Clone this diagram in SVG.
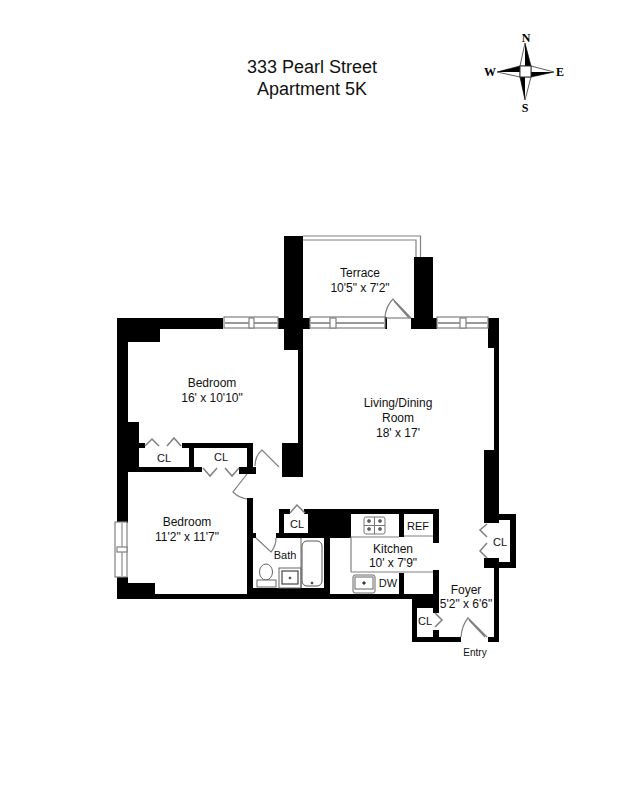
<svg xmlns="http://www.w3.org/2000/svg" width="618" height="800" viewBox="0 0 618 800">
<style>
text{font-family:"Liberation Sans",Arial,sans-serif;fill:#111;text-anchor:middle}
.t{font-size:18px}.r{font-size:12px}.s{font-size:11px}.x{font-size:10px}
.c{font-family:"Liberation Serif","Times New Roman",serif;font-weight:bold;font-size:12px;fill:#000}
.w{fill:#000}
.g{fill:none;stroke:#808080;stroke-width:1.2}
.gw{fill:#fff;stroke:#808080;stroke-width:1.2}
</style>
<rect width="618" height="800" fill="#fff"/>
<g id="title">
<text class="t" x="312" y="73">333 Pearl Street</text>
<text class="t" x="312" y="95">Apartment 5K</text>
</g>
<g id="compass">
<path d="M525 43L520 66H531Z" fill="#fff" stroke="#333" stroke-width=".8"/>
<path d="M525 43L531 66H525Z" fill="#000"/>
<path d="M525 100L520 77H531Z" fill="#fff" stroke="#333" stroke-width=".8"/>
<path d="M525 100L520 77H525Z" fill="#000"/>
<path d="M497 72L520 66V77Z" fill="#fff" stroke="#333" stroke-width=".8"/>
<path d="M497 72L520 66V72Z" fill="#000"/>
<path d="M554 72L531 66V77Z" fill="#fff" stroke="#333" stroke-width=".8"/>
<path d="M554 72L531 77V72Z" fill="#000"/>
<rect x="520" y="66" width="11" height="11" fill="#fff" stroke="#333"/>
<text class="c" x="526" y="42">N</text>
<text class="c" x="490" y="76">W</text>
<text class="c" x="560" y="76">E</text>
<text class="c" x="525" y="112">S</text>
</g>
<g id="terrace-rail">
<path class="g" d="M303 236H420.500V257M303 240H416V257"/>
</g>
<g id="walls">
<rect class="w" x="284" y="236" width="19" height="114"/>
<rect class="w" x="278" y="318" width="32" height="11"/>
<rect class="w" x="298" y="350" width="5" height="100"/>
<rect class="w" x="282" y="443" width="21" height="34"/>
<rect class="w" x="414" y="257" width="19" height="72"/>
<rect class="w" x="411" y="318" width="26" height="11"/>
<rect class="w" x="385" y="317" width="2" height="12"/>
<rect class="w" x="488" y="318" width="11" height="30"/>
<rect class="w" x="494" y="348" width="5" height="102"/>
<rect class="w" x="484" y="450" width="15" height="73"/>
<rect class="w" x="499" y="514" width="17" height="6"/>
<rect class="w" x="510" y="514" width="6" height="54"/>
<rect class="w" x="484" y="558" width="15" height="10"/>
<rect class="w" x="484" y="562" width="32" height="6"/>
<rect class="w" x="494" y="568" width="5" height="74"/>
<rect class="w" x="117" y="318" width="106" height="11"/>
<rect class="w" x="117" y="318" width="43" height="24"/>
<rect class="w" x="117" y="318" width="11" height="205"/>
<rect class="w" x="117" y="422" width="22" height="50"/>
<rect class="w" x="139" y="443" width="6" height="5"/>
<rect class="w" x="182" y="443" width="71" height="5"/>
<rect class="w" x="189" y="443" width="5" height="24"/>
<rect class="w" x="117" y="467" width="85" height="5"/>
<rect class="w" x="247" y="443" width="6" height="31"/>
<rect class="w" x="239" y="467" width="17" height="7"/>
<rect class="w" x="247" y="498" width="6" height="100"/>
<rect class="w" x="117" y="577" width="11" height="20"/>
<rect class="w" x="117" y="583" width="38" height="16"/>
<rect class="w" x="117" y="594" width="295" height="5"/>
<rect class="w" x="253" y="588" width="71" height="8"/>
<rect class="w" x="253" y="533" width="3" height="5"/>
<rect class="w" x="276" y="533" width="75" height="5"/>
<rect class="w" x="279" y="509" width="5" height="26"/>
<rect class="w" x="308" y="509" width="43" height="28"/>
<rect class="w" x="279" y="509" width="11" height="5"/>
<rect class="w" x="304" y="509" width="135" height="5"/>
<rect class="w" x="324" y="533" width="6" height="63"/>
<rect class="w" x="399" y="514" width="5" height="23"/>
<rect class="w" x="433" y="509" width="6" height="34"/>
<rect class="w" x="433" y="570" width="6" height="43"/>
<rect class="w" x="399" y="573" width="5" height="21"/>
<rect class="w" x="412" y="594" width="27" height="14"/>
<rect class="w" x="412" y="594" width="5" height="48"/>
<rect class="w" x="433" y="630" width="6" height="8"/>
<rect class="w" x="412" y="637" width="49" height="5"/>
<rect class="w" x="488" y="637" width="11" height="5"/>
</g>
<g id="windows">
<g id="win-bedroom"><rect class="gw" x="224" y="317" width="54" height="11"/><path d="M225 323H277" stroke="#333"/><rect class="gw" x="249" y="318" width="5" height="10"/></g>
<g id="win-terrace"><rect class="gw" x="310" y="317" width="75" height="11"/><path d="M311 323H384" stroke="#333"/><rect class="gw" x="330" y="318" width="6" height="10"/></g>
<g id="win-living"><rect class="gw" x="437" y="317" width="51" height="11"/><path d="M438 323H487" stroke="#333"/><rect class="gw" x="460" y="318" width="6" height="10"/></g>
<g id="win-bedroom2"><rect class="gw" x="115" y="522" width="12" height="55"/><path d="M122 523V576" stroke="#777"/><rect class="gw" x="117" y="547" width="10" height="5"/></g>
<path class="g" d="M386 318H411"/>
</g>
<g id="doors">
<path class="g" d="M385 317Q386 306 393 299L411 318M394 301L409 318"/>
<path class="g" d="M255 466Q255 456 262 450L279 467"/>
<path class="g" d="M247 474L233 492Q239 498 247 499"/>
<path class="g" d="M256 538L271 552Q276 546 276 538"/>
<path class="g" d="M461 637Q462 625 468 618L487 637M469 620L485 637"/>
<path class="g" d="M145 446L152 439L159 446M167 446L174 438L181 446M203 468L210 476L217 468M225 468L232 476L239 468M290 513L297 505L305 513M487 524L480 530L487 537M487 543L480 551L487 558M435 613L442 620L435 627" style="stroke-width:1.500"/>
</g>
<g id="kitchen-fixtures">
<path class="g" d="M351 537H399M404 536H433M351 537V572M351 572H433"/>
<g id="stove" fill="none" stroke="#777"><rect x="364" y="517" width="21" height="17" rx="2"/><path d="M374.500 517V534M364 525.500H385"/><circle cx="369" cy="521" r="1.500" fill="#555"/><circle cx="380" cy="521" r="1.500" fill="#555"/><circle cx="369" cy="529" r="1.500" fill="#555"/><circle cx="380" cy="529" r="1.500" fill="#555"/></g>
<g id="ksink" fill="none" stroke="#666"><rect x="353" y="575" width="22" height="18" rx="2"/><rect x="355" y="577" width="18" height="12"/><circle cx="364" cy="583" r="1.300" fill="#000"/></g>
</g>
<g id="bath-fixtures">
<path class="g" d="M301 538V588"/>
<g id="tub" fill="none" stroke="#555"><rect x="302" y="541" width="20" height="45" rx="5"/><circle cx="312" cy="583" r="1" fill="#000"/></g>
<g id="bsink" fill="none" stroke="#666"><rect x="279" y="568" width="22" height="20"/><rect x="282" y="571" width="16" height="13" stroke-width="1.200" stroke="#444"/><circle cx="290" cy="578" r="1" fill="#000"/></g>
<g id="toilet" fill="#fff" stroke="#666"><ellipse cx="266" cy="572" rx="6.500" ry="8"/><rect x="257" y="580" width="19" height="7"/></g>
</g>
<g id="labels">
<text class="r" x="360" y="277">Terrace</text>
<text class="r" x="360" y="292">10'5" x 7'2"</text>
<text class="r" x="212" y="387">Bedroom</text>
<text class="r" x="212" y="402">16' x 10'10"</text>
<text class="r" x="398" y="407">Living/Dining</text>
<text class="r" x="398" y="422">Room</text>
<text class="r" x="398" y="437">18' x 17'</text>
<text class="r" x="187" y="526">Bedroom</text>
<text class="r" x="187" y="541">11'2" x 11'7"</text>
<text class="r" x="393" y="553">Kitchen</text>
<text class="r" x="393" y="567">10' x 7'9"</text>
<text class="r" x="466" y="594">Foyer</text>
<text class="r" x="466" y="608">5'2" x 6'6"</text>
<text class="s" x="164" y="462">CL</text>
<text class="s" x="221" y="461">CL</text>
<text class="s" x="297" y="528">CL</text>
<text class="s" x="500" y="546">CL</text>
<text class="s" x="425" y="625">CL</text>
<text class="s" x="418" y="530">REF</text>
<text class="s" x="388" y="587">DW</text>
<text class="s" x="285" y="559">Bath</text>
<text class="x" x="475" y="656">Entry</text>
</g>
</svg>
